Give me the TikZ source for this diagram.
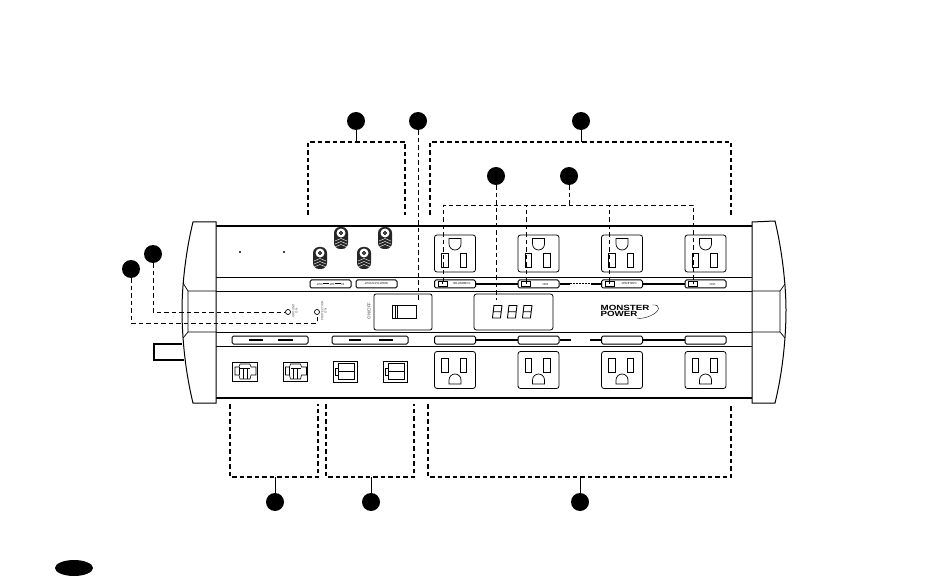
\documentclass[tikz,border=0pt]{standalone}
\usepackage{fontspec}
\setmainfont{Liberation Sans}
\usetikzlibrary{positioning, shapes.geometric}

\tikzstyle{tag} = [circle, fill=black, minimum width=18pt, inner sep=0pt]
\tikzstyle{bracket} = [line width=1.3pt, dash pattern=on 4.5pt off 3pt]
\tikzstyle{lead} = [line width=.8pt, dash pattern=on 4.5pt off 3pt]
\tikzstyle{outlet} = [draw, rounded corners=2.5pt, line width=.8pt, minimum width=41pt, minimum height=37pt, inner sep=0pt]
\tikzstyle{strip} = [draw, rounded corners=1.5pt, line width=1pt, minimum height=8pt, inner sep=0pt, font=\fontsize{2.8}{3}\selectfont, rotate=180]
\tikzstyle{slot} = [draw, line width=.7pt, inner sep=0pt, minimum width=6.5pt, minimum height=14pt]
\tikzstyle{jack} = [draw, line width=.8pt, inner sep=0pt, minimum width=24.5pt, minimum height=19pt]
\tikzstyle{coax} = [fill=black!85, rounded corners=6pt, minimum width=14pt, minimum height=22pt, inner sep=0pt]
\tikzstyle{led} = [draw, circle, line width=.7pt, minimum width=5pt, inner sep=0pt]
\tikzstyle{small} = [font=\fontsize{3}{3.4}\selectfont, align=center, text=black!70, rotate=90]

\begin{document}
\begin{tikzpicture}[x=1pt, y=-1pt]
\useasboundingbox (0,0) rectangle (950,577);

% body
\draw[line width=2pt] (216,226) -- (752,226);
\draw[line width=2pt] (216,398) -- (752,398);
\foreach \yy in {277,291,332,346}
    \draw[line width=.8pt] (188,\yy) -- (780,\yy);

% end caps
\draw[line width=1pt, fill=white] (216,222) -- (193,222) .. controls (186,250) and (182,285) .. (182,310) .. controls (182,340) and (186,375) .. (193,403) -- (216,403) -- cycle;
\draw[line width=1pt, fill=white] (752,222) -- (775,221) .. controls (782,250) and (786,285) .. (786,310) .. controls (786,340) and (782,375) .. (775,403) -- (752,403) -- cycle;
\draw[line width=.7pt] (183,283) -- (188,291) -- (216,291) (188,291) -- (188,332) -- (216,332) (188,332) -- (183,338);
\draw[line width=.7pt] (785,284) -- (780,291) -- (752,291) (780,291) -- (780,332) -- (752,332) (780,332) -- (785,338);
\draw[line width=2pt] (182,343.5) -- (154,343.5) -- (154,359.5) -- (184,359.5);

% outlets, strips and their switches
\foreach \name/\xx/\lab in {a/455/{TV/MONITOR}, b/538.5/DVD, c/622/{CABLE/SAT}, d/705.5/VCR} {
    \node[outlet] (top\name) at (\xx,253.5) {};
    \node[outlet] (bot\name) at (\xx,370) {};
    \node[slot] (topl\name) at (\xx-10,260) {};
    \node[slot] (topr\name) at (\xx+8.5,260) {};
    \node[slot] (botl\name) at (\xx-10,365) {};
    \node[slot] (botr\name) at (\xx+8.5,365) {};
    \draw[line width=.7pt] (\xx-6,238.5) -- (\xx+6,238.5) -- (\xx+6,244) arc (0:180:6) -- cycle;
    \draw[line width=.7pt] (\xx-6,384) -- (\xx+6,384) -- (\xx+6,380) arc (0:-180:6) -- cycle;
    \node[strip, minimum width=41pt] (lab\name) at (\xx,284) {\lab\hspace*{14pt}};
    \node[strip, minimum width=41pt] (bar\name) at (\xx,340) {};
    \draw[line width=.7pt] (\xx-17,281.5) rectangle (\xx-8,286.5) (\xx-12.5,281.5) -- (\xx-12.5,284);
}

% thick links
\draw[line width=1.3pt] (laba) -- (labb);
\draw[line width=1.3pt] (labb) -- (570,284);
\draw[line width=1pt, dash pattern=on 1.5pt off 1.5pt] (570,284) -- (591,284);
\draw[line width=1.3pt] (591,284) -- (labc);
\draw[line width=1.3pt] (labc) -- (labd);
\draw[line width=1.3pt] (bara) -- (barb);
\draw[line width=1.3pt] (barb) -- (571,340);
\draw[line width=1.3pt] (590,340) -- (barc);
\draw[line width=1.3pt] (barc) -- (bard);

% left strips
\node[strip, minimum width=41pt] (coaxa) at (330.5,284) {IN\,\rule{6pt}{1pt}\,SAT\,\rule{6pt}{1pt}\,OUT};
\node[strip, minimum width=41pt] (coaxb) at (376.5,284) {IN/SAT/CATV/OUT};
\node[strip, minimum width=76pt] (bare) at (270,340) {};
\node[strip, minimum width=76pt] (barf) at (370,340) {};
\foreach \xa/\xb in {249/263,278/293,349/361,379/393}
    \draw[line width=1.3pt] (\xa,340) -- (\xb,340);

% coax sockets
\foreach \name/\xx/\yy in {a/320/258,b/341/238,c/364/258,d/385/238} {
    \node[coax] (coax\name) at (\xx,\yy) {};
    \fill[white] (\xx,\yy-5) circle (4.5);
    \draw[fill=black!70] (\xx,\yy-5) circle (1.8);
    \foreach \i in {1,2,3}
        \draw[white, line width=.4pt] (\xx-6,\yy+\i*3) -- (\xx,\yy+\i*3-2.5) -- (\xx+6,\yy+\i*3);
}
\fill (240,252) circle (1.2);
\fill (284,252) circle (1.2);

% phone and network jacks
\foreach \name/\xx in {a/245,b/295.5} {
    \node[jack] (phone\name) at (\xx,371.5) {};
    \draw[line width=.6pt] (\xx-10,367) -- (\xx-6,367) -- (\xx-5,364) -- (\xx+5,364) -- (\xx+6,367) -- (\xx+11,367) -- (\xx+11,375) -- (\xx+6,375) -- (\xx+5,379) -- (\xx-5,379) -- (\xx-6,375) -- (\xx-10,375) -- cycle;
    \draw[line width=.5pt] (\xx-6,367) -- (\xx-6,375) (\xx-2,368) -- (\xx-2,379) (\xx+2,368) -- (\xx+2,379) (\xx-5,368) -- (\xx+5,368);
}
\foreach \name/\xx in {a/345.5,b/395.5} {
    \node[jack, minimum height=21pt] (net\name) at (\xx,371.5) {};
    \draw[line width=.6pt] (\xx-7,363.5) rectangle (\xx+9,379.5) (\xx-7,371.5) -- (\xx+9,371.5);
    \draw[line width=.6pt] (\xx-7,368) -- (\xx-10,368) -- (\xx-10,375) -- (\xx-7,375);
}

% power switch
\node[draw, rounded corners=2pt, line width=.8pt, minimum width=58pt, minimum height=36pt, inner sep=0pt] (power) at (403,312) {};
\node[draw, line width=.8pt, minimum width=24pt, minimum height=13pt, inner sep=0pt] (rocker) at (404,311.5) {};
\draw[line width=.8pt] (395,305) -- (395,318);
\draw[line width=1pt] (397.5,305) -- (397.5,318);
\node[font=\fontsize{4.5}{5}\selectfont, text=black!70, rotate=90] (onoff) at (369,311) {ON/OFF};

% display
\node[draw, rounded corners=2.5pt, line width=.8pt, minimum width=79pt, minimum height=36pt, inner sep=0pt] (display) at (513.5,312) {};
\foreach \xx in {494,509,524} {
    \draw[line width=.9pt, xslant=.12] (\xx+36.6,305.5) rectangle (\xx+44.6,318) (\xx+36.6,311.7) -- (\xx+44.6,311.7);
}

% logo
\node[font=\bfseries\fontsize{7.5}{6.8}\selectfont, align=left, inner sep=0pt] (logo) at (625,311) {\scalebox{1.3}[1]{MONSTER}\\\scalebox{1.3}[1]{POWER}};
\draw[line width=.4pt] (652,305) .. controls (662,304) and (660,312) .. (650,316) .. controls (645,318) and (640,319) .. (637,318);

% LEDs
\node[led] (ledg) at (288,312) {};
\node[led] (ledp) at (317,312) {};
\node[small] (ledgt) at (295,311) {GROUND\\ON};
\node[small] (ledpt) at (324,311) {PROTECTION\\ON};

% callouts
\node[tag] (rca) at (356,121) {};
\node[tag] (sw) at (418,121) {};
\node[tag] (sock) at (581,121) {};
\node[tag] (disp) at (496,176) {};
\node[tag] (sel) at (569,176) {};
\node[tag] (gnd) at (153,254) {};
\node[tag] (prot) at (131,269) {};
\node[tag] (tel) at (275,502) {};
\node[tag] (net) at (371,502) {};
\node[tag] (main) at (580,502) {};
\node[fill=black, ellipse, minimum width=38pt, minimum height=16pt, inner sep=0pt] (page) at (74,568) {};

% brackets
\draw[bracket] (308,215) -- (308,142) -- (405,142) -- (405,215);
\draw[line width=.8pt] (rca) -- (356,142);
\draw[bracket] (430,215) -- (430,142) -- (731,142) -- (731,215);
\draw[line width=.8pt] (sock) -- (581,142);
\draw[bracket] (230,404) -- (230,477) -- (318,477) -- (318,404);
\draw[line width=.8pt] (tel) -- (275,477);
\draw[bracket] (326,404) -- (326,477) -- (414,477) -- (414,404);
\draw[line width=.8pt] (net) -- (371,477);
\draw[bracket] (428,404) -- (428,477) -- (731,477) -- (731,404);
\draw[line width=.8pt] (main) -- (580,477);

% leaders
\draw[lead] (sw) -- (418,300);
\draw[lead] (disp) -- (496,300);
\draw[lead] (sel) -- (569,205);
\draw[lead] (443,282) -- (443,205) -- (693,205) -- (693,282);
\draw[lead] (526,282) -- (526,205);
\draw[lead] (609,282) -- (609,205);
\draw[lead] (gnd) |- (ledg);
\draw[lead] (prot) |- (317,323) -- (ledp);
\end{tikzpicture}
\end{document}
